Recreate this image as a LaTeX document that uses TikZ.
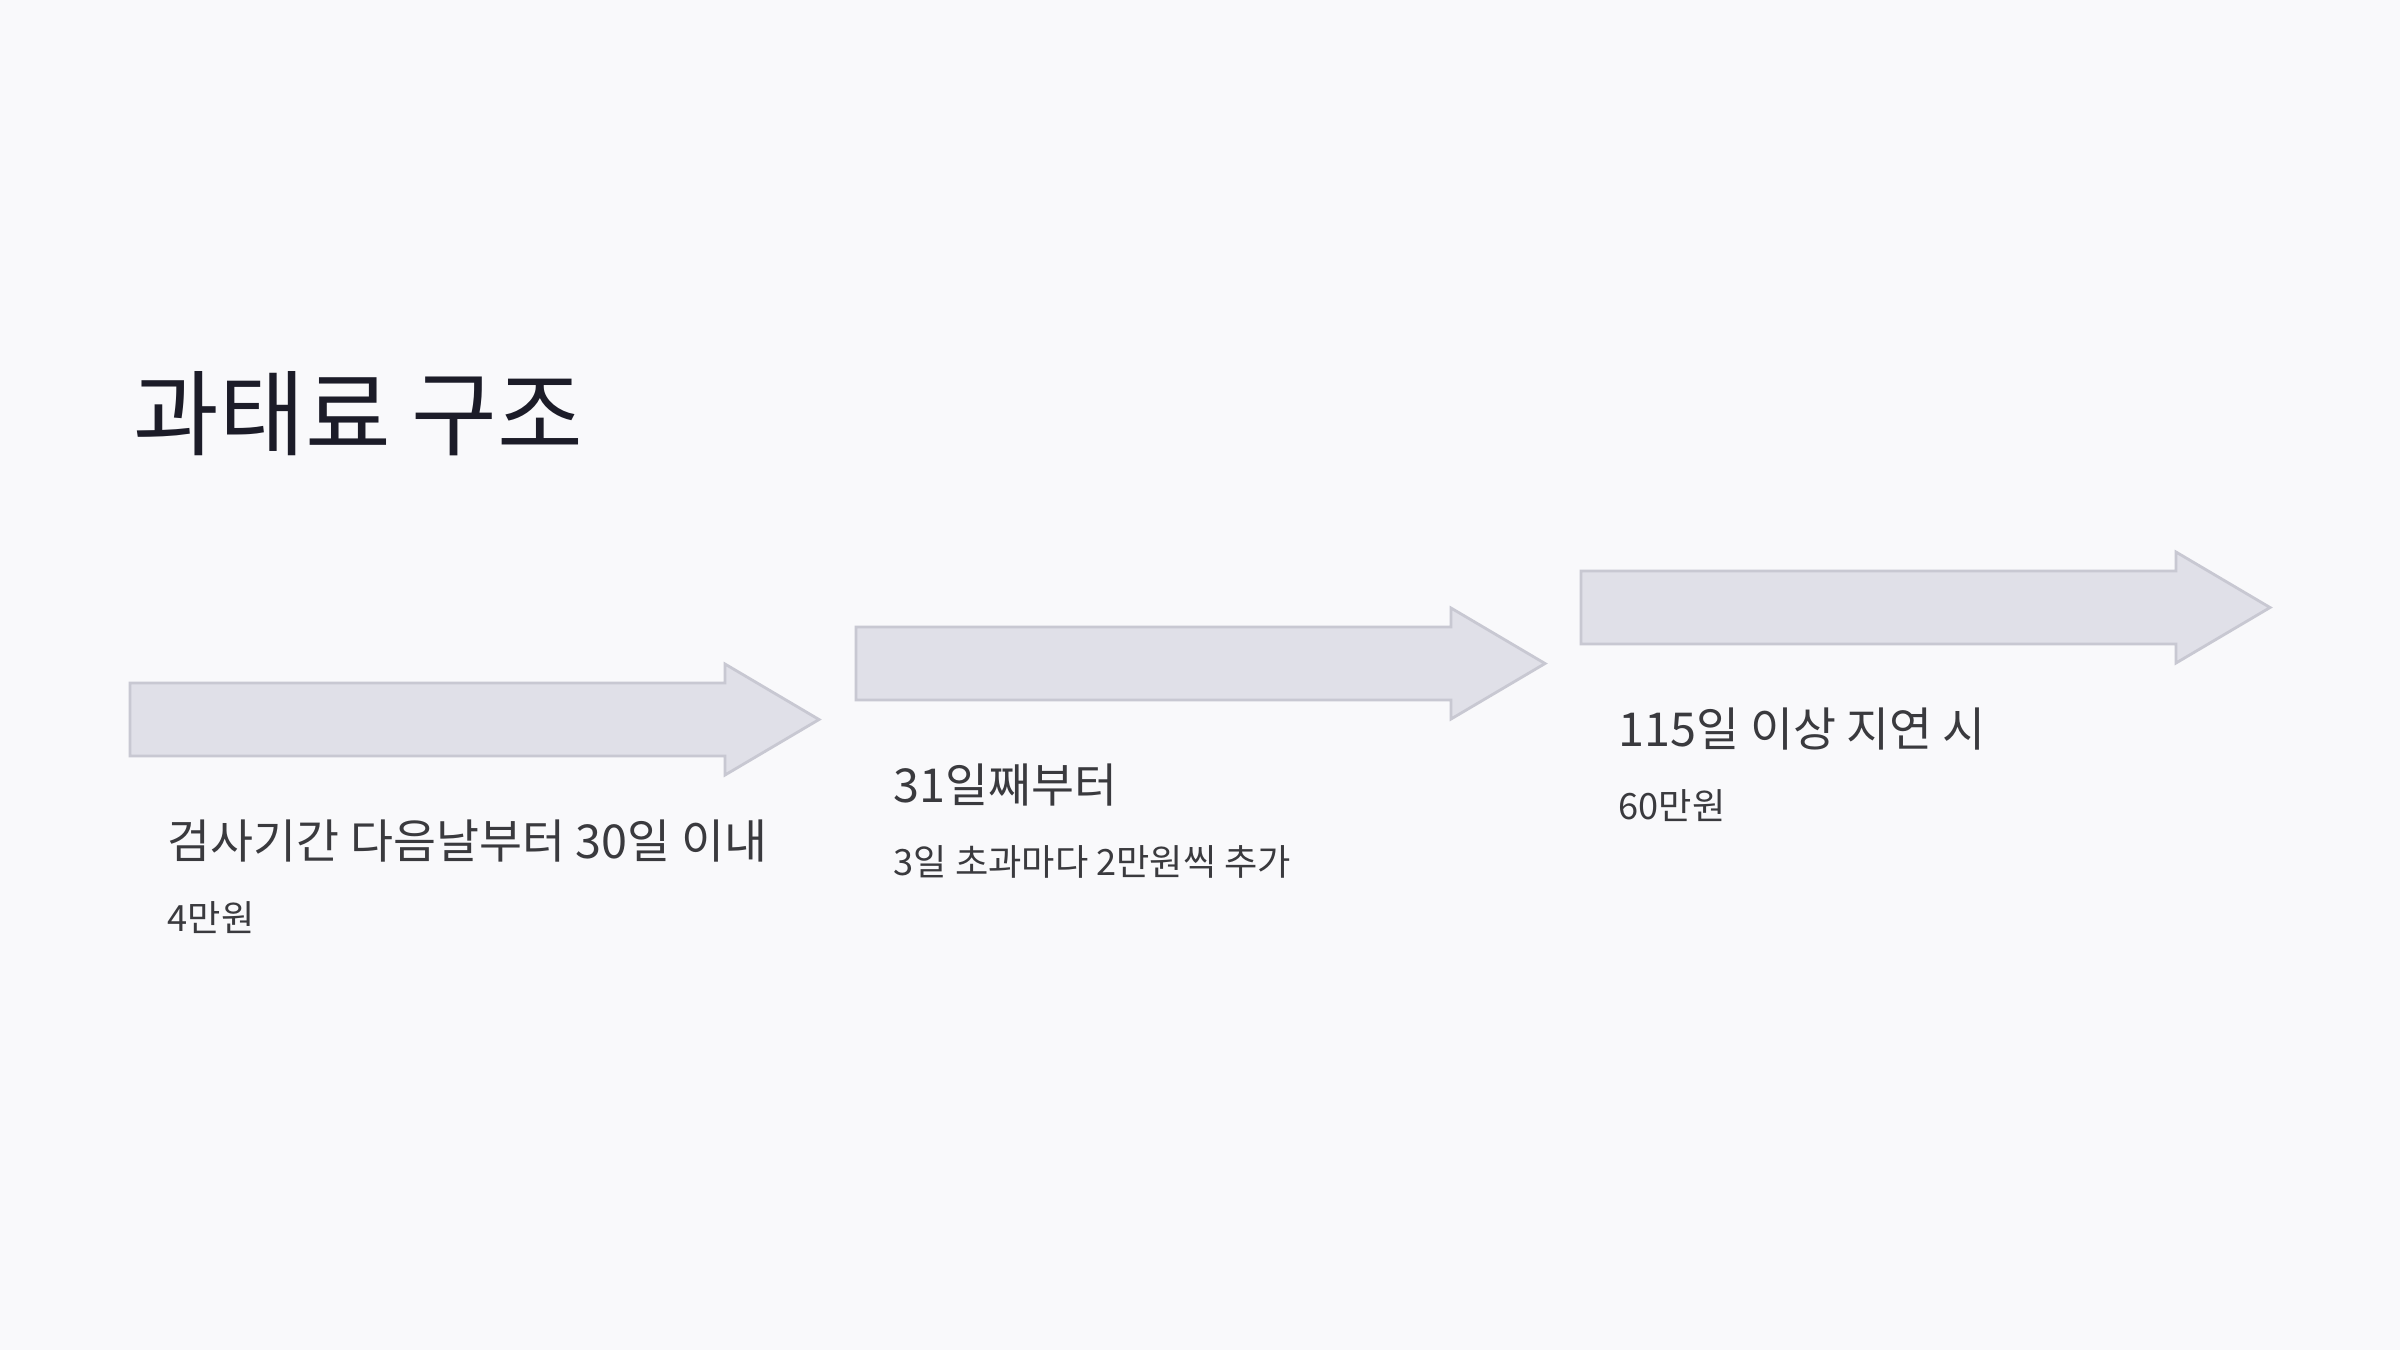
\documentclass[tikz,border=0pt]{standalone}
\usepackage{fontspec}
\setmainfont{Noto Sans CJK KR}
\definecolor{pagebg}{HTML}{F9F9FB}
\definecolor{arrowfill}{HTML}{E0E0E8}
\definecolor{arrowline}{HTML}{C8C8D2}
\definecolor{titleink}{HTML}{1C1C28}
\definecolor{textink}{HTML}{3A3A3E}
\begin{document}
\begin{tikzpicture}[every node/.style={inner sep=0pt, anchor=west, text=textink},
    stagearrow/.style={fill=arrowfill, draw=arrowline, line width=0.8pt, line join=miter}]
    \fill[pagebg] (0,0) rectangle (24,-13.5);
    \useasboundingbox (0,0) rectangle (24,-13.5);
    \node[text=titleink, font=\fontsize{26.5}{32}\selectfont] (title) at (1.33,-4.14) {과태료 구조};
    \foreach \i/\x/\y/\head/\fine in {
        1/1.30/-7.195/{검사기간 다음날부터 30일 이내}/{4만원},
        2/8.56/-6.635/{31일째부터}/{3일 초과마다 2만원씩 추가},
        3/15.81/-6.075/{115일 이상 지연 시}/{60만원}}{
        \draw[stagearrow] (\x,\y+0.365) -- (\x+5.95,\y+0.365) -- (\x+5.95,\y+0.555)
            -- (\x+6.89,\y) -- (\x+5.95,\y-0.555) -- (\x+5.95,\y-0.365)
            -- (\x,\y-0.365) -- cycle;
        \coordinate (arrow\i) at (\x,\y);
        \node[font=\fontsize{13.3}{16}\selectfont] (head\i) at ([shift={(0.37,-1.21)}]arrow\i) {\head};
        \node[font=\fontsize{10.3}{12}\selectfont] (fine\i) at ([shift={(0.37,-1.98)}]arrow\i) {\fine};
    }
\end{tikzpicture}
\end{document}
